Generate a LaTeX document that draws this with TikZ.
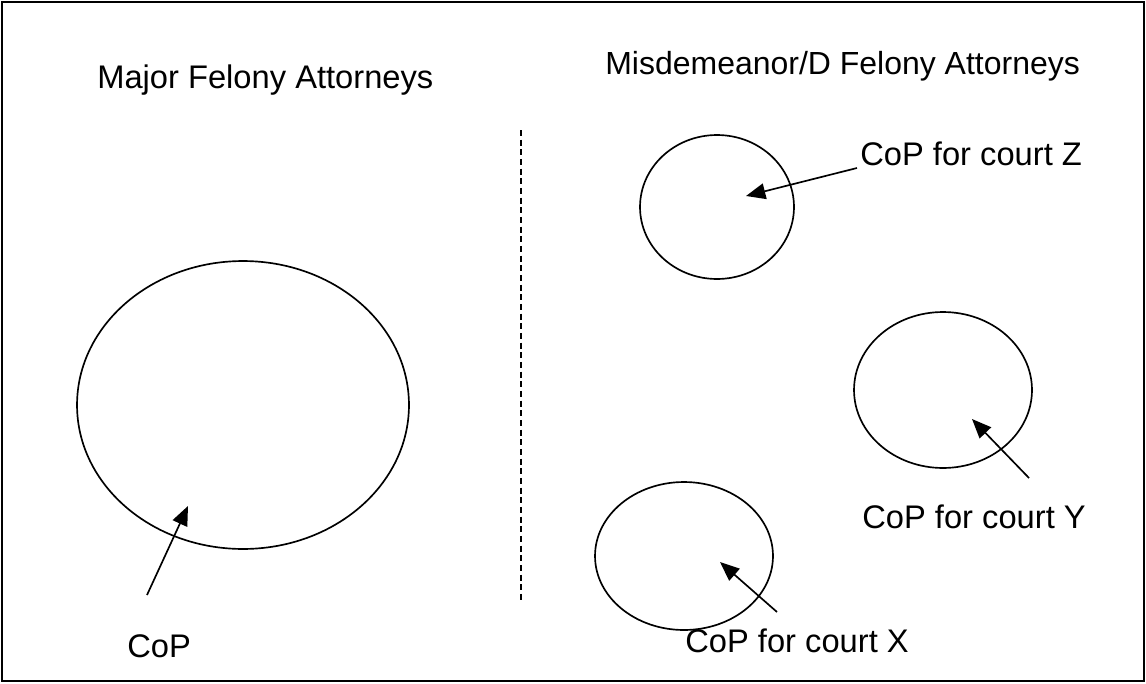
\documentclass[tikz,border=0pt]{standalone}
\usepackage{fontspec}
\setmainfont{Liberation Sans}
\usetikzlibrary{shapes.geometric,arrows.meta}

\tikzstyle{court} = [draw, ellipse, line width=0.95pt, inner sep=0pt, outer sep=0pt]
\tikzstyle{lbl} = [anchor=base west, inner sep=0pt, font=\fontsize{18.6}{22}\selectfont]
\tikzstyle{cop} = [line width=0.95pt, -{Triangle[length=11pt,width=9pt]}]

\begin{document}
\begin{tikzpicture}[x=0.02cm, y=-0.02cm]
\useasboundingbox (0,0) rectangle (1146,683);
\draw[line width=0.9pt] (2,2) rectangle (1144,681);

\node[lbl] (major) at (97,88) {Major Felony Attorneys};
\node[lbl, font=\fontsize{18.2}{22}\selectfont] (misd) at (605,74) {Misdemeanor/D Felony Attorneys};

\coordinate (divTop) at (521,130);
\coordinate (divBot) at (521,600);
\draw[line width=0.8pt, dash pattern=on 3.5pt off 2pt] (divTop) -- (divBot);

\node[court, minimum width=6.64cm, minimum height=5.76cm] (big) at (243,405) {};
\node[court, minimum width=3.08cm, minimum height=2.88cm] (courtZ) at (717,207) {};
\node[court, minimum width=3.56cm, minimum height=3.12cm] (courtY) at (943,390) {};
\node[court, minimum width=3.56cm, minimum height=2.96cm] (courtX) at (684,556) {};

\node[lbl] (copLbl) at (127,657) {CoP};
\node[lbl] (zLbl) at (860,165) {CoP for court Z};
\node[lbl] (yLbl) at (862,528) {CoP for court Y};
\node[lbl] (xLbl) at (685,652) {CoP for court X};

\coordinate (copTail) at (147,595);
\coordinate (copTip) at (188,506);
\coordinate (zTail) at (857,168);
\coordinate (zTip) at (746,196);
\coordinate (yTail) at (1029,478);
\coordinate (yTip) at (972,419);
\coordinate (xTail) at (777,612);
\coordinate (xTip) at (720,562);

\draw[cop] (copTail) -- (copTip);
\draw[cop] (zTail) -- (zTip);
\draw[cop] (yTail) -- (yTip);
\draw[cop] (xTail) -- (xTip);
\end{tikzpicture}
\end{document}
